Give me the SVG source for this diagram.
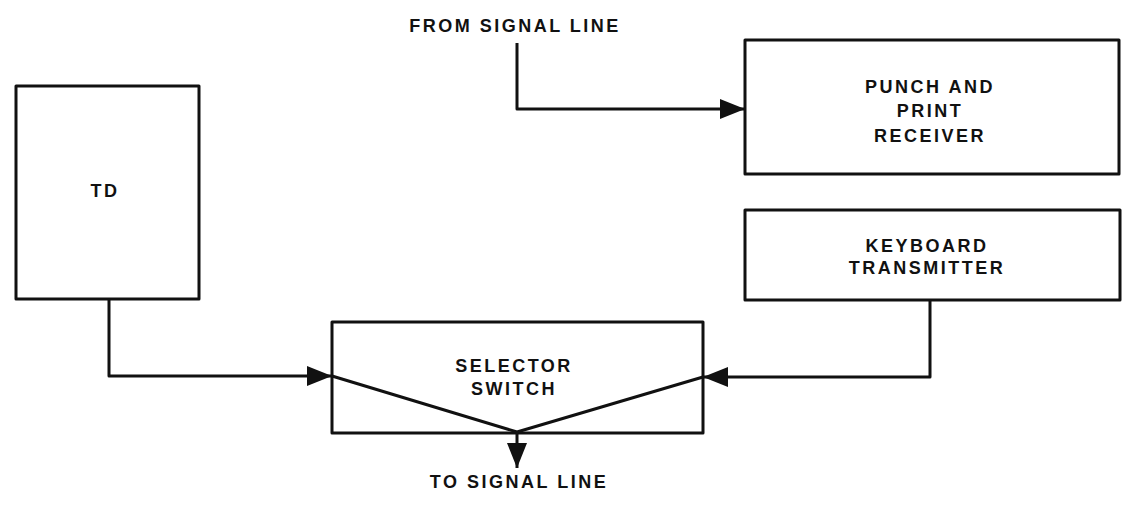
<svg xmlns="http://www.w3.org/2000/svg" width="1127" height="507" viewBox="0 0 1127 507">
<style>
.box{fill:none;stroke:#111;stroke-width:3;stroke-linejoin:round}
.ln{fill:none;stroke:#111;stroke-width:3;stroke-linejoin:round}
text{font-family:"Liberation Sans",Arial,sans-serif;font-size:18px;font-weight:bold;fill:#111;text-anchor:middle;letter-spacing:2.5px}
</style>
<defs>
<marker id="ah" markerUnits="userSpaceOnUse" markerWidth="26" markerHeight="22" refX="25" refY="10" orient="auto">
<path d="M0,0 L25,10 L0,20 Z" fill="#111"/>
</marker>
</defs>
<rect width="1127" height="507" fill="#fff"/>
<g id="td">
<rect class="box" x="16" y="86" width="183" height="213"/>
<text x="105" y="197">TD</text>
</g>
<g id="punch">
<rect class="box" x="745" y="40" width="374" height="134"/>
<text x="930" y="93">PUNCH AND</text>
<text x="930" y="117">PRINT</text>
<text x="930" y="142">RECEIVER</text>
</g>
<g id="keyboard">
<rect class="box" x="745" y="210" width="375" height="90"/>
<text x="927" y="252">KEYBOARD</text>
<text x="927" y="274">TRANSMITTER</text>
</g>
<g id="selector">
<rect class="box" x="332" y="322" width="371" height="111"/>
<text x="514" y="372">SELECTOR</text>
<text x="514" y="395">SWITCH</text>
</g>
<g id="labels">
<text x="515" y="32">FROM SIGNAL LINE</text>
<text x="519" y="488">TO SIGNAL LINE</text>
</g>
<g id="connectors">
<path class="ln" d="M517,43 V109 H745" marker-end="url(#ah)"/>
<path class="ln" d="M109,299 V376 H332" marker-end="url(#ah)"/>
<path class="ln" d="M930,300 V377 H703" marker-end="url(#ah)"/>
<path class="ln" d="M332,376 L517,432 L703,377"/>
<path class="ln" d="M517,432 V468" marker-end="url(#ah)"/>
</g>
</svg>
